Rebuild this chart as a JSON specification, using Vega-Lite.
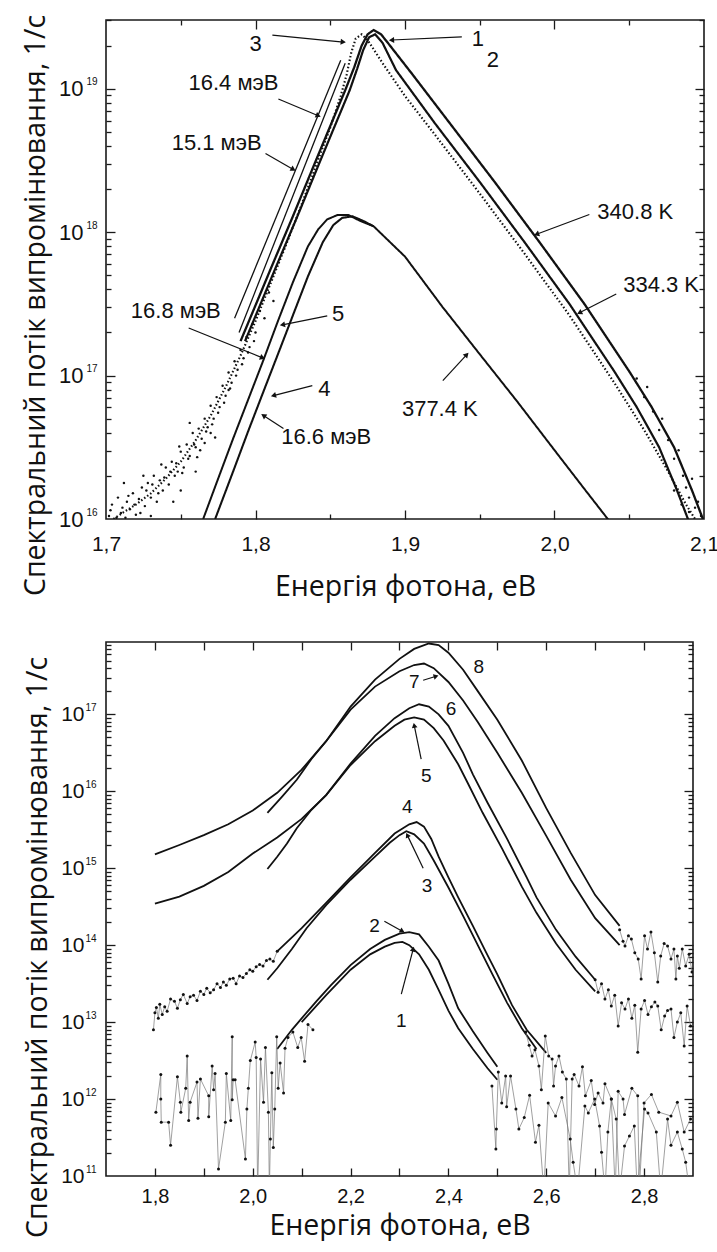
{
"$schema": "https://vega.github.io/schema/vega-lite/v6.json",
"background": "white",
"padding": {"left": 20, "top": 13, "right": 10, "bottom": 0},
"spacing": 38,
"config": {
 "view": {"stroke": "#1a1a1a", "strokeWidth": 1.6},
 "axis": {"grid": false, "domain": false, "tickColor": "#1a1a1a", "tickWidth": 1.3, "labelColor": "#111", "labelFont": "Liberation Sans", "titleColor": "#111", "labelFlush": false, "labelOverlap": false},
 "text": {"font": "Liberation Sans"}
},
"datasets": {
 "tc": [
  {"s":"1","E":1.790,"v":1.74e17},{"s":"1","E":1.800,"v":3.09e17},{"s":"1","E":1.810,"v":5.50e17},{"s":"1","E":1.825,"v":1.29e18},{"s":"1","E":1.840,"v":3.09e18},{"s":"1","E":1.850,"v":5.50e18},{"s":"1","E":1.860,"v":9.77e18},{"s":"1","E":1.866,"v":1.41e19},{"s":"1","E":1.871,"v":2.00e19},{"s":"1","E":1.875,"v":2.40e19},{"s":"1","E":1.879,"v":2.57e19},{"s":"1","E":1.884,"v":2.40e19},{"s":"1","E":1.890,"v":2.00e19},{"s":"1","E":1.905,"v":1.26e19},{"s":"1","E":1.930,"v":5.75e18},{"s":"1","E":1.960,"v":2.24e18},{"s":"1","E":1.990,"v":8.51e17},{"s":"1","E":2.020,"v":3.16e17},{"s":"1","E":2.050,"v":1.07e17},{"s":"1","E":2.065,"v":6.03e16},{"s":"1","E":2.080,"v":3.16e16},{"s":"1","E":2.092,"v":1.58e16},{"s":"1","E":2.100,"v":9.55e15},
  {"s":"2","E":1.793,"v":1.74e17},{"s":"2","E":1.803,"v":3.09e17},{"s":"2","E":1.813,"v":5.50e17},{"s":"2","E":1.828,"v":1.29e18},{"s":"2","E":1.843,"v":3.09e18},{"s":"2","E":1.853,"v":5.50e18},{"s":"2","E":1.863,"v":9.77e18},{"s":"2","E":1.868,"v":1.38e19},{"s":"2","E":1.872,"v":1.86e19},{"s":"2","E":1.876,"v":2.29e19},{"s":"2","E":1.880,"v":2.40e19},{"s":"2","E":1.885,"v":2.09e19},{"s":"2","E":1.894,"v":1.35e19},{"s":"2","E":1.920,"v":5.75e18},{"s":"2","E":1.950,"v":2.24e18},{"s":"2","E":1.980,"v":8.51e17},{"s":"2","E":2.010,"v":3.16e17},{"s":"2","E":2.040,"v":1.07e17},{"s":"2","E":2.055,"v":6.03e16},{"s":"2","E":2.070,"v":3.16e16},{"s":"2","E":2.082,"v":1.58e16},{"s":"2","E":2.090,"v":9.55e15},
  {"s":"3","E":1.705,"v":1.00e16},{"s":"3","E":1.712,"v":1.12e16},{"s":"3","E":1.720,"v":1.26e16},{"s":"3","E":1.730,"v":1.51e16},{"s":"3","E":1.740,"v":1.91e16},{"s":"3","E":1.750,"v":2.51e16},{"s":"3","E":1.760,"v":3.55e16},{"s":"3","E":1.770,"v":5.25e16},{"s":"3","E":1.780,"v":8.32e16},{"s":"3","E":1.790,"v":1.38e17},{"s":"3","E":1.800,"v":2.40e17},{"s":"3","E":1.810,"v":4.37e17},{"s":"3","E":1.820,"v":7.94e17},{"s":"3","E":1.830,"v":1.48e18},{"s":"3","E":1.840,"v":2.82e18},{"s":"3","E":1.850,"v":5.37e18},{"s":"3","E":1.857,"v":8.91e18},{"s":"3","E":1.861,"v":1.26e19},{"s":"3","E":1.864,"v":1.78e19},{"s":"3","E":1.867,"v":2.24e19},{"s":"3","E":1.871,"v":2.40e19},{"s":"3","E":1.875,"v":2.19e19},{"s":"3","E":1.885,"v":1.51e19},{"s":"3","E":1.900,"v":8.91e18},{"s":"3","E":1.920,"v":4.79e18},{"s":"3","E":1.950,"v":1.86e18},{"s":"3","E":1.980,"v":7.08e17},{"s":"3","E":2.010,"v":2.63e17},{"s":"3","E":2.040,"v":8.91e16},{"s":"3","E":2.060,"v":4.17e16},{"s":"3","E":2.075,"v":2.24e16},{"s":"3","E":2.088,"v":1.26e16},{"s":"3","E":2.097,"v":8.91e15},
  {"s":"5","E":1.765,"v":1.00e16},{"s":"5","E":1.775,"v":1.91e16},{"s":"5","E":1.785,"v":3.63e16},{"s":"5","E":1.795,"v":6.76e16},{"s":"5","E":1.805,"v":1.26e17},{"s":"5","E":1.815,"v":2.40e17},{"s":"5","E":1.825,"v":4.47e17},{"s":"5","E":1.835,"v":7.94e17},{"s":"5","E":1.842,"v":1.05e18},{"s":"5","E":1.848,"v":1.23e18},{"s":"5","E":1.855,"v":1.32e18},{"s":"5","E":1.862,"v":1.32e18},{"s":"5","E":1.870,"v":1.20e18},{"s":"5","E":1.879,"v":1.10e18},{"s":"5","E":1.900,"v":6.76e17},{"s":"5","E":1.925,"v":3.02e17},{"s":"5","E":1.950,"v":1.41e17},{"s":"5","E":1.975,"v":6.61e16},{"s":"5","E":2.000,"v":3.02e16},{"s":"5","E":2.020,"v":1.62e16},{"s":"5","E":2.035,"v":1.02e16},{"s":"5","E":2.040,"v":8.71e15},
  {"s":"4","E":1.773,"v":1.00e16},{"s":"4","E":1.785,"v":2.14e16},{"s":"4","E":1.795,"v":4.07e16},{"s":"4","E":1.805,"v":7.59e16},{"s":"4","E":1.815,"v":1.41e17},{"s":"4","E":1.825,"v":2.63e17},{"s":"4","E":1.835,"v":4.90e17},{"s":"4","E":1.845,"v":8.51e17},{"s":"4","E":1.852,"v":1.12e18},{"s":"4","E":1.858,"v":1.26e18},{"s":"4","E":1.865,"v":1.29e18},{"s":"4","E":1.872,"v":1.20e18},{"s":"4","E":1.879,"v":1.10e18}
 ],
 "tf": [
  {"s":"f15","E":1.786,"v":2.51e17},{"s":"f15","E":1.857,"v":1.58e19},
  {"s":"f16","E":1.789,"v":2.00e17},{"s":"f16","E":1.860,"v":1.51e19}
 ],
 "tn": [
  {"E":1.702,"v":1.05e16},{"E":1.704,"v":1.26e16},{"E":1.708,"v":1.41e16},{"E":1.710,"v":1.10e16},{"E":1.713,"v":1.02e16},{"E":1.714,"v":1.32e16},{"E":1.716,"v":1.17e16},{"E":1.718,"v":1.51e16},{"E":1.720,"v":1.07e16},{"E":1.722,"v":1.38e16},{"E":1.724,"v":1.66e16},{"E":1.726,"v":1.23e16},{"E":1.728,"v":1.78e16},{"E":1.730,"v":1.41e16},{"E":1.732,"v":2.00e16},{"E":1.734,"v":1.32e16},{"E":1.736,"v":1.86e16},{"E":1.738,"v":1.58e16},{"E":1.740,"v":2.29e16},{"E":1.742,"v":1.74e16},{"E":1.744,"v":2.51e16},{"E":1.746,"v":2.00e16},{"E":1.748,"v":2.14e16},{"E":1.750,"v":2.95e16},{"E":1.752,"v":2.29e16},{"E":1.754,"v":3.31e16},{"E":1.756,"v":2.75e16},{"E":1.758,"v":3.98e16},{"E":1.760,"v":3.16e16},{"E":1.762,"v":4.27e16},{"E":1.764,"v":3.63e16},{"E":1.766,"v":5.01e16},{"E":1.768,"v":4.37e16},{"E":1.770,"v":6.17e16},{"E":1.772,"v":5.01e16},{"E":1.774,"v":7.08e16},{"E":1.776,"v":6.03e16},{"E":1.778,"v":8.51e16},{"E":1.780,"v":7.24e16},{"E":1.782,"v":1.05e17},{"E":1.784,"v":8.91e16},{"E":1.786,"v":1.26e17},{"E":1.788,"v":1.10e17},{"E":1.790,"v":1.51e17},{"E":1.792,"v":1.32e17},{"E":1.794,"v":1.86e17},{"E":1.796,"v":1.58e17},{"E":1.798,"v":2.29e17},{"E":1.800,"v":2.00e17},{"E":1.803,"v":2.82e17},{"E":1.806,"v":2.51e17},{"E":1.809,"v":3.80e17},{"E":1.812,"v":3.31e17},
  {"E":1.745,"v":1.32e16},{"E":1.730,"v":1.05e16},{"E":1.760,"v":2.14e16},{"E":1.750,"v":1.58e16},{"E":1.712,"v":1.78e16},{"E":1.770,"v":3.98e16},{"E":1.782,"v":7.94e16},{"E":1.756,"v":4.68e16},{"E":1.766,"v":3.39e16},
  {"E":1.703,"v":1.15e16},{"E":1.707,"v":1.02e16},{"E":1.711,"v":1.20e16},{"E":1.715,"v":1.45e16},{"E":1.719,"v":1.26e16},{"E":1.723,"v":1.10e16},{"E":1.727,"v":1.58e16},{"E":1.731,"v":1.74e16},{"E":1.735,"v":1.51e16},{"E":1.739,"v":1.95e16},{"E":1.743,"v":2.14e16},{"E":1.747,"v":2.45e16},{"E":1.751,"v":2.09e16},{"E":1.755,"v":2.63e16},{"E":1.759,"v":3.31e16},{"E":1.763,"v":3.02e16},{"E":1.767,"v":4.07e16},{"E":1.771,"v":4.57e16},{"E":1.775,"v":5.50e16},{"E":1.779,"v":6.46e16},{"E":1.783,"v":8.13e16},{"E":1.787,"v":1.00e17},{"E":1.791,"v":1.20e17},{"E":1.795,"v":1.45e17},{"E":1.799,"v":1.74e17},{"E":1.725,"v":2.00e16},{"E":1.737,"v":2.40e16},{"E":1.749,"v":3.20e16},{"E":1.761,"v":2.70e16},{"E":1.773,"v":3.70e16},
  {"E":2.055,"v":9.55e16},{"E":2.060,"v":7.08e16},{"E":2.062,"v":8.32e16},{"E":2.066,"v":5.62e16},{"E":2.070,"v":4.17e16},{"E":2.072,"v":5.01e16},{"E":2.076,"v":3.55e16},{"E":2.080,"v":2.63e16},{"E":2.083,"v":3.02e16},{"E":2.086,"v":2.00e16},{"E":2.088,"v":1.66e16},{"E":2.090,"v":1.41e16},{"E":2.092,"v":1.91e16},{"E":2.094,"v":1.20e16},{"E":2.096,"v":1.32e16},{"E":2.098,"v":1.05e16},{"E":2.085,"v":1.26e16},{"E":2.080,"v":1.58e16},{"E":2.090,"v":1.12e16}
 ],
 "ta": [
  {"t":"3","E":1.800,"v":2.04e19},{"t":"1","E":1.9487,"v":2.22e19},{"t":"2","E":1.9587,"v":1.58e19},
  {"t":"16.4 мэВ","E":1.7853,"v":1.10e19},{"t":"15.1 мэВ","E":1.774,"v":4.22e18},
  {"t":"340.8 K","E":2.054,"v":1.38e18},{"t":"334.3 K","E":2.0713,"v":4.29e17},{"t":"377.4 K","E":1.9233,"v":5.81e16},
  {"t":"16.8 мэВ","E":1.7467,"v":2.82e17},{"t":"5","E":1.8553,"v":2.69e17},{"t":"4","E":1.846,"v":8.13e16},{"t":"16.6 мэВ","E":1.8473,"v":3.71e16}
 ],
 "tr": [
  {"E":1.8113,"v":2.37e19,"E2":1.8587,"v2":2.12e19,"ang":95.6},
  {"E":1.938,"v":2.30e19,"E2":1.891,"v2":2.19e19,"ang":267.5},
  {"E":1.8153,"v":8.5e18,"E2":1.842,"v2":6.49e18,"ang":113},
  {"E":1.8067,"v":3.54e18,"E2":1.8253,"v2":2.74e18,"ang":119.7},
  {"E":2.0233,"v":1.33e18,"E2":1.988,"v2":9.68e17,"ang":249.3},
  {"E":2.0413,"v":3.71e17,"E2":2.0167,"v2":2.74e17,"ang":242.8},
  {"E":1.9253,"v":9.22e16,"E2":1.9413,"v2":1.40e17,"ang":42.7},
  {"E":1.7553,"v":2.15e17,"E2":1.8047,"v2":1.33e17,"ang":112.1},
  {"E":1.848,"v":2.61e17,"E2":1.818,"v2":2.26e17,"ang":258.7},
  {"E":1.838,"v":8.51e16,"E2":1.812,"v2":7.26e16,"ang":255.6},
  {"E":1.8187,"v":4.28e16,"E2":1.8053,"v2":5.27e16,"ang":303}
 ],
 "bc": [
  {"s":"8","E":1.80,"v":1.51e15},{"s":"8","E":1.85,"v":2.00e15},{"s":"8","E":1.90,"v":2.69e15},{"s":"8","E":1.95,"v":3.72e15},{"s":"8","E":2.00,"v":5.62e15},{"s":"8","E":2.05,"v":9.55e15},{"s":"8","E":2.10,"v":1.91e16},{"s":"8","E":2.15,"v":4.47e16},{"s":"8","E":2.20,"v":1.26e17},{"s":"8","E":2.25,"v":2.82e17},{"s":"8","E":2.30,"v":5.25e17},{"s":"8","E":2.33,"v":7.08e17},{"s":"8","E":2.36,"v":8.32e17},{"s":"8","E":2.38,"v":7.94e17},{"s":"8","E":2.40,"v":6.31e17},{"s":"8","E":2.43,"v":3.80e17},{"s":"8","E":2.46,"v":2.00e17},{"s":"8","E":2.50,"v":8.51e16},{"s":"8","E":2.55,"v":2.51e16},{"s":"8","E":2.60,"v":6.03e15},{"s":"8","E":2.65,"v":1.58e15},{"s":"8","E":2.70,"v":4.47e14},{"s":"8","E":2.75,"v":1.78e14},
  {"s":"7","E":2.03,"v":5.25e15},{"s":"7","E":2.06,"v":8.51e15},{"s":"7","E":2.09,"v":1.41e16},{"s":"7","E":2.12,"v":2.63e16},{"s":"7","E":2.15,"v":4.47e16},{"s":"7","E":2.20,"v":1.15e17},{"s":"7","E":2.25,"v":2.29e17},{"s":"7","E":2.30,"v":3.63e17},{"s":"7","E":2.33,"v":4.37e17},{"s":"7","E":2.35,"v":4.57e17},{"s":"7","E":2.37,"v":3.98e17},{"s":"7","E":2.40,"v":2.63e17},{"s":"7","E":2.43,"v":1.51e17},{"s":"7","E":2.46,"v":7.94e16},{"s":"7","E":2.50,"v":3.16e16},{"s":"7","E":2.55,"v":9.55e15},{"s":"7","E":2.60,"v":2.63e15},{"s":"7","E":2.65,"v":7.08e14},{"s":"7","E":2.70,"v":2.24e14},{"s":"7","E":2.75,"v":1.00e14},
  {"s":"6","E":1.80,"v":3.47e14},{"s":"6","E":1.85,"v":4.27e14},{"s":"6","E":1.90,"v":5.89e14},{"s":"6","E":1.95,"v":8.91e14},{"s":"6","E":2.00,"v":1.55e15},{"s":"6","E":2.05,"v":2.51e15},{"s":"6","E":2.10,"v":4.37e15},{"s":"6","E":2.15,"v":8.91e15},{"s":"6","E":2.20,"v":2.29e16},{"s":"6","E":2.25,"v":5.25e16},{"s":"6","E":2.29,"v":8.91e16},{"s":"6","E":2.32,"v":1.20e17},{"s":"6","E":2.34,"v":1.35e17},{"s":"6","E":2.36,"v":1.26e17},{"s":"6","E":2.38,"v":1.00e17},{"s":"6","E":2.40,"v":7.08e16},{"s":"6","E":2.43,"v":3.16e16},{"s":"6","E":2.45,"v":1.66e16},{"s":"6","E":2.48,"v":7.08e15},{"s":"6","E":2.52,"v":2.40e15},{"s":"6","E":2.56,"v":7.59e14},{"s":"6","E":2.58,"v":4.17e14},{"s":"6","E":2.62,"v":1.58e14},{"s":"6","E":2.66,"v":7.08e13},{"s":"6","E":2.70,"v":3.55e13},
  {"s":"5","E":2.03,"v":9.77e14},{"s":"5","E":2.05,"v":1.41e15},{"s":"5","E":2.07,"v":2.09e15},{"s":"5","E":2.09,"v":3.31e15},{"s":"5","E":2.12,"v":5.75e15},{"s":"5","E":2.15,"v":8.91e15},{"s":"5","E":2.20,"v":2.19e16},{"s":"5","E":2.25,"v":4.47e16},{"s":"5","E":2.29,"v":7.08e16},{"s":"5","E":2.31,"v":8.51e16},{"s":"5","E":2.33,"v":9.12e16},{"s":"5","E":2.35,"v":8.51e16},{"s":"5","E":2.37,"v":6.61e16},{"s":"5","E":2.39,"v":4.57e16},{"s":"5","E":2.42,"v":2.24e16},{"s":"5","E":2.44,"v":1.26e16},{"s":"5","E":2.47,"v":5.25e15},{"s":"5","E":2.51,"v":1.78e15},{"s":"5","E":2.55,"v":5.75e14},{"s":"5","E":2.58,"v":2.63e14},{"s":"5","E":2.62,"v":1.05e14},{"s":"5","E":2.66,"v":4.79e13},{"s":"5","E":2.70,"v":2.51e13},
  {"s":"4","E":2.05,"v":8.32e13},{"s":"4","E":2.10,"v":1.66e14},{"s":"4","E":2.15,"v":3.55e14},{"s":"4","E":2.20,"v":7.59e14},{"s":"4","E":2.25,"v":1.58e15},{"s":"4","E":2.29,"v":2.82e15},{"s":"4","E":2.32,"v":3.72e15},{"s":"4","E":2.335,"v":3.98e15},{"s":"4","E":2.35,"v":3.47e15},{"s":"4","E":2.365,"v":2.40e15},{"s":"4","E":2.38,"v":1.41e15},{"s":"4","E":2.40,"v":7.59e14},{"s":"4","E":2.42,"v":4.17e14},{"s":"4","E":2.45,"v":1.78e14},{"s":"4","E":2.476,"v":8.32e13},{"s":"4","E":2.50,"v":4.17e13},{"s":"4","E":2.53,"v":1.66e13},{"s":"4","E":2.56,"v":7.94e12},{"s":"4","E":2.60,"v":3.98e12},
  {"s":"3","E":2.03,"v":3.55e13},{"s":"3","E":2.05,"v":5.01e13},{"s":"3","E":2.08,"v":8.91e13},{"s":"3","E":2.11,"v":1.66e14},{"s":"3","E":2.15,"v":3.31e14},{"s":"3","E":2.20,"v":7.08e14},{"s":"3","E":2.25,"v":1.41e15},{"s":"3","E":2.28,"v":2.14e15},{"s":"3","E":2.30,"v":2.69e15},{"s":"3","E":2.314,"v":3.02e15},{"s":"3","E":2.33,"v":2.75e15},{"s":"3","E":2.35,"v":2.09e15},{"s":"3","E":2.37,"v":1.26e15},{"s":"3","E":2.40,"v":5.62e14},{"s":"3","E":2.43,"v":2.40e14},{"s":"3","E":2.46,"v":1.00e14},{"s":"3","E":2.49,"v":4.17e13},{"s":"3","E":2.52,"v":1.78e13},{"s":"3","E":2.55,"v":8.32e12},{"s":"3","E":2.58,"v":4.47e12},
  {"s":"2","E":2.05,"v":4.47e12},{"s":"2","E":2.08,"v":7.94e12},{"s":"2","E":2.10,"v":1.12e13},{"s":"2","E":2.13,"v":1.86e13},{"s":"2","E":2.16,"v":3.02e13},{"s":"2","E":2.20,"v":5.50e13},{"s":"2","E":2.24,"v":8.91e13},{"s":"2","E":2.27,"v":1.17e14},{"s":"2","E":2.30,"v":1.41e14},{"s":"2","E":2.32,"v":1.48e14},{"s":"2","E":2.34,"v":1.38e14},{"s":"2","E":2.36,"v":9.55e13},{"s":"2","E":2.38,"v":6.31e13},{"s":"2","E":2.40,"v":3.16e13},{"s":"2","E":2.42,"v":1.51e13},{"s":"2","E":2.45,"v":7.59e12},{"s":"2","E":2.48,"v":3.98e12},{"s":"2","E":2.50,"v":2.63e12},
  {"s":"1","E":2.10,"v":1.00e13},{"s":"1","E":2.15,"v":2.24e13},{"s":"1","E":2.20,"v":4.79e13},{"s":"1","E":2.24,"v":7.59e13},{"s":"1","E":2.27,"v":9.55e13},{"s":"1","E":2.29,"v":1.07e14},{"s":"1","E":2.306,"v":1.10e14},{"s":"1","E":2.32,"v":1.00e14},{"s":"1","E":2.34,"v":7.59e13},{"s":"1","E":2.36,"v":4.79e13},{"s":"1","E":2.38,"v":2.63e13},{"s":"1","E":2.40,"v":1.41e13},{"s":"1","E":2.42,"v":8.32e12},{"s":"1","E":2.45,"v":4.47e12},{"s":"1","E":2.48,"v":2.51e12},{"s":"1","E":2.50,"v":1.78e12}
 ],
 "bn": [
  {"s":"n4","E":1.797,"v":7.94e12},{"s":"n4","E":1.800,"v":1.32e13},{"s":"n4","E":1.803,"v":1.55e13},{"s":"n4","E":1.807,"v":1.12e13},{"s":"n4","E":1.810,"v":1.70e13},{"s":"n4","E":1.815,"v":1.26e13},{"s":"n4","E":1.820,"v":1.58e13},{"s":"n4","E":1.825,"v":1.38e13},{"s":"n4","E":1.832,"v":2.00e13},{"s":"n4","E":1.840,"v":1.86e13},{"s":"n4","E":1.846,"v":1.51e13},{"s":"n4","E":1.852,"v":1.95e13},{"s":"n4","E":1.858,"v":2.29e13},{"s":"n4","E":1.866,"v":1.74e13},{"s":"n4","E":1.872,"v":2.14e13},{"s":"n4","E":1.879,"v":2.24e13},{"s":"n4","E":1.886,"v":1.91e13},{"s":"n4","E":1.893,"v":2.51e13},{"s":"n4","E":1.900,"v":2.29e13},{"s":"n4","E":1.906,"v":2.75e13},{"s":"n4","E":1.913,"v":2.40e13},{"s":"n4","E":1.920,"v":2.63e13},{"s":"n4","E":1.927,"v":3.16e13},{"s":"n4","E":1.934,"v":2.82e13},{"s":"n4","E":1.940,"v":3.31e13},{"s":"n4","E":1.946,"v":3.02e13},{"s":"n4","E":1.953,"v":3.63e13},{"s":"n4","E":1.960,"v":3.72e13},{"s":"n4","E":1.966,"v":3.16e13},{"s":"n4","E":1.973,"v":3.98e13},{"s":"n4","E":1.980,"v":3.80e13},{"s":"n4","E":1.987,"v":4.27e13},{"s":"n4","E":1.994,"v":4.79e13},{"s":"n4","E":2.000,"v":4.57e13},{"s":"n4","E":2.007,"v":5.25e13},{"s":"n4","E":2.014,"v":5.62e13},{"s":"n4","E":2.021,"v":5.37e13},{"s":"n4","E":2.028,"v":6.31e13},{"s":"n4","E":2.035,"v":6.61e13},{"s":"n4","E":2.042,"v":6.17e13},{"s":"n4","E":2.050,"v":8.32e13},
  {"s":"nL","E":1.802,"v":6.76e11},{"s":"nL","E":1.812,"v":2.09e12},{"s":"nL","E":1.812,"v":1.00e12},{"s":"nL","E":1.813,"v":5.01e11},{"s":"nL","E":1.828,"v":5.01e11},{"s":"nL","E":1.832,"v":2.51e11},{"s":"nL","E":1.846,"v":1.95e12},{"s":"nL","E":1.852,"v":9.12e11},{"s":"nL","E":1.853,"v":6.76e11},{"s":"nL","E":1.863,"v":1.38e12},{"s":"nL","E":1.866,"v":3.63e12},{"s":"nL","E":1.869,"v":5.25e11},{"s":"nL","E":1.872,"v":9.12e11},{"s":"nL","E":1.886,"v":1.66e12},{"s":"nL","E":1.888,"v":5.62e11},{"s":"nL","E":1.893,"v":1.82e12},{"s":"nL","E":1.910,"v":1.10e12},{"s":"nL","E":1.910,"v":5.89e11},{"s":"nL","E":1.917,"v":2.69e12},{"s":"nL","E":1.920,"v":1.32e12},{"s":"nL","E":1.923,"v":2.14e12},{"s":"nL","E":1.930,"v":1.23e11},{"s":"nL","E":1.944,"v":5.01e11},{"s":"nL","E":1.946,"v":2.14e12},{"s":"nL","E":1.955,"v":5.25e11},{"s":"nL","E":1.958,"v":6.46e12},{"s":"nL","E":1.958,"v":9.77e11},{"s":"nL","E":1.960,"v":1.78e12},{"s":"nL","E":1.964,"v":1.78e12},{"s":"nL","E":1.985,"v":1.66e11},{"s":"nL","E":1.988,"v":7.41e11},{"s":"nL","E":1.991,"v":1.38e12},{"s":"nL","E":1.995,"v":3.16e12},{"s":"nL","E":2.005,"v":5.50e12},{"s":"nL","E":2.007,"v":3.47e12},{"s":"nL","E":2.010,"v":6.31e10},{"s":"nL","E":2.016,"v":3.31e12},{"s":"nL","E":2.022,"v":9.12e11},{"s":"nL","E":2.026,"v":4.68e12},{"s":"nL","E":2.032,"v":6.76e11},{"s":"nL","E":2.034,"v":6.31e10},{"s":"nL","E":2.036,"v":3.02e11},{"s":"nL","E":2.039,"v":2.19e12},{"s":"nL","E":2.042,"v":2.34e11},{"s":"nL","E":2.045,"v":7.41e11},{"s":"nL","E":2.049,"v":6.46e12},{"s":"nL","E":2.052,"v":1.38e12},{"s":"nL","E":2.056,"v":2.95e12},{"s":"nL","E":2.063,"v":1.20e12},{"s":"nL","E":2.066,"v":4.57e12},{"s":"nL","E":2.072,"v":6.31e12},{"s":"nL","E":2.082,"v":7.41e12},{"s":"nL","E":2.092,"v":4.68e12},{"s":"nL","E":2.099,"v":6.31e12},{"s":"nL","E":2.106,"v":3.09e12},{"s":"nL","E":2.113,"v":9.33e12},{"s":"nL","E":2.123,"v":7.94e12},
  {"s":"nLow","E":2.489,"v":1.48e12},{"s":"nLow","E":2.497,"v":2.24e11},{"s":"nLow","E":2.498,"v":4.07e11},{"s":"nLow","E":2.502,"v":2.24e12},{"s":"nLow","E":2.509,"v":8.91e11},{"s":"nLow","E":2.517,"v":2.00e12},{"s":"nLow","E":2.519,"v":7.94e11},{"s":"nLow","E":2.527,"v":2.00e12},{"s":"nLow","E":2.538,"v":7.41e11},{"s":"nLow","E":2.544,"v":4.07e11},{"s":"nLow","E":2.555,"v":5.75e11},{"s":"nLow","E":2.566,"v":1.12e12},{"s":"nLow","E":2.578,"v":2.75e11},{"s":"nLow","E":2.585,"v":4.57e11},{"s":"nLow","E":2.595,"v":6.31e10},{"s":"nLow","E":2.604,"v":8.91e11},{"s":"nLow","E":2.619,"v":6.03e11},{"s":"nLow","E":2.632,"v":1.05e12},{"s":"nLow","E":2.649,"v":3.02e11},{"s":"nLow","E":2.655,"v":1.51e11},{"s":"nLow","E":2.664,"v":6.31e10},{"s":"nLow","E":2.679,"v":8.13e11},{"s":"nLow","E":2.686,"v":6.61e11},{"s":"nLow","E":2.699,"v":1.00e12},{"s":"nLow","E":2.709,"v":4.47e11},{"s":"nLow","E":2.713,"v":2.04e11},{"s":"nLow","E":2.720,"v":6.31e10},{"s":"nLow","E":2.726,"v":3.72e11},{"s":"nLow","E":2.733,"v":1.00e12},{"s":"nLow","E":2.743,"v":5.50e11},{"s":"nLow","E":2.750,"v":6.31e10},{"s":"nLow","E":2.760,"v":2.45e11},{"s":"nLow","E":2.770,"v":3.31e11},{"s":"nLow","E":2.780,"v":4.47e11},{"s":"nLow","E":2.786,"v":6.31e10},{"s":"nLow","E":2.801,"v":7.41e11},{"s":"nLow","E":2.808,"v":6.61e11},{"s":"nLow","E":2.825,"v":3.72e11},{"s":"nLow","E":2.834,"v":6.31e10},{"s":"nLow","E":2.848,"v":5.50e11},{"s":"nLow","E":2.855,"v":2.51e11},{"s":"nLow","E":2.868,"v":3.72e11},{"s":"nLow","E":2.878,"v":2.24e11},{"s":"nLow","E":2.885,"v":1.51e11},{"s":"nLow","E":2.893,"v":6.31e10},
  {"s":"nMid","E":2.558,"v":7.41e12},{"s":"nMid","E":2.565,"v":5.01e12},{"s":"nMid","E":2.571,"v":3.63e12},{"s":"nMid","E":2.577,"v":4.37e12},{"s":"nMid","E":2.585,"v":2.69e12},{"s":"nMid","E":2.590,"v":1.32e12},{"s":"nMid","E":2.598,"v":6.61e12},{"s":"nMid","E":2.605,"v":3.63e12},{"s":"nMid","E":2.612,"v":3.31e12},{"s":"nMid","E":2.615,"v":1.48e12},{"s":"nMid","E":2.619,"v":2.69e12},{"s":"nMid","E":2.626,"v":3.63e12},{"s":"nMid","E":2.633,"v":2.24e12},{"s":"nMid","E":2.641,"v":1.82e12},{"s":"nMid","E":2.647,"v":6.31e10},{"s":"nMid","E":2.653,"v":1.82e12},{"s":"nMid","E":2.657,"v":2.09e12},{"s":"nMid","E":2.667,"v":1.48e12},{"s":"nMid","E":2.674,"v":2.63e12},{"s":"nMid","E":2.680,"v":1.10e12},{"s":"nMid","E":2.692,"v":1.74e12},{"s":"nMid","E":2.699,"v":8.51e11},{"s":"nMid","E":2.706,"v":1.20e12},{"s":"nMid","E":2.716,"v":8.91e11},{"s":"nMid","E":2.720,"v":1.58e12},{"s":"nMid","E":2.733,"v":1.00e12},{"s":"nMid","E":2.741,"v":6.31e10},{"s":"nMid","E":2.747,"v":1.26e12},{"s":"nMid","E":2.757,"v":1.00e12},{"s":"nMid","E":2.760,"v":6.31e11},{"s":"nMid","E":2.775,"v":1.38e12},{"s":"nMid","E":2.787,"v":1.10e12},{"s":"nMid","E":2.790,"v":6.31e10},{"s":"nMid","E":2.800,"v":8.91e11},{"s":"nMid","E":2.815,"v":1.15e12},{"s":"nMid","E":2.830,"v":6.76e11},{"s":"nMid","E":2.855,"v":6.03e11},{"s":"nMid","E":2.868,"v":9.12e11},{"s":"nMid","E":2.882,"v":3.72e11},{"s":"nMid","E":2.895,"v":5.50e11},
  {"s":"nU78","E":2.750,"v":1.58e14},{"s":"nU78","E":2.757,"v":1.12e14},{"s":"nU78","E":2.761,"v":9.77e13},{"s":"nU78","E":2.768,"v":1.32e14},{"s":"nU78","E":2.774,"v":1.20e14},{"s":"nU78","E":2.781,"v":7.94e13},{"s":"nU78","E":2.788,"v":6.61e13},{"s":"nU78","E":2.794,"v":3.63e13},{"s":"nU78","E":2.801,"v":1.32e14},{"s":"nU78","E":2.807,"v":8.91e13},{"s":"nU78","E":2.814,"v":1.48e14},{"s":"nU78","E":2.821,"v":7.94e13},{"s":"nU78","E":2.828,"v":3.31e13},{"s":"nU78","E":2.834,"v":7.24e13},{"s":"nU78","E":2.841,"v":1.05e14},{"s":"nU78","E":2.848,"v":9.77e13},{"s":"nU78","E":2.855,"v":6.61e13},{"s":"nU78","E":2.861,"v":8.91e13},{"s":"nU78","E":2.865,"v":3.63e13},{"s":"nU78","E":2.868,"v":7.24e13},{"s":"nU78","E":2.872,"v":5.01e13},{"s":"nU78","E":2.878,"v":8.91e13},{"s":"nU78","E":2.885,"v":5.37e13},{"s":"nU78","E":2.892,"v":7.59e13},{"s":"nU78","E":2.898,"v":4.47e13},
  {"s":"nU56","E":2.700,"v":3.55e13},{"s":"nU56","E":2.706,"v":2.45e13},{"s":"nU56","E":2.713,"v":3.16e13},{"s":"nU56","E":2.720,"v":2.00e13},{"s":"nU56","E":2.727,"v":2.63e13},{"s":"nU56","E":2.733,"v":1.62e13},{"s":"nU56","E":2.740,"v":2.24e13},{"s":"nU56","E":2.747,"v":8.91e12},{"s":"nU56","E":2.754,"v":1.78e13},{"s":"nU56","E":2.761,"v":1.48e13},{"s":"nU56","E":2.768,"v":2.00e13},{"s":"nU56","E":2.775,"v":1.12e13},{"s":"nU56","E":2.781,"v":1.66e13},{"s":"nU56","E":2.787,"v":4.07e12},{"s":"nU56","E":2.794,"v":1.48e13},{"s":"nU56","E":2.801,"v":1.91e13},{"s":"nU56","E":2.808,"v":1.26e13},{"s":"nU56","E":2.815,"v":1.58e13},{"s":"nU56","E":2.822,"v":1.82e13},{"s":"nU56","E":2.828,"v":1.62e13},{"s":"nU56","E":2.835,"v":7.94e12},{"s":"nU56","E":2.842,"v":1.20e13},{"s":"nU56","E":2.848,"v":1.41e13},{"s":"nU56","E":2.855,"v":1.48e13},{"s":"nU56","E":2.861,"v":6.31e12},{"s":"nU56","E":2.868,"v":1.00e13},{"s":"nU56","E":2.875,"v":1.32e13},{"s":"nU56","E":2.882,"v":4.90e12},{"s":"nU56","E":2.888,"v":1.62e13},{"s":"nU56","E":2.895,"v":8.91e12}
 ],
 "ba": [
  {"t":"8","E":2.4622,"v":4.07e17},{"t":"7","E":2.3301,"v":2.61e17},{"t":"6","E":2.4053,"v":1.16e17},{"t":"5","E":2.3545,"v":1.57e16},{"t":"4","E":2.3159,"v":6.19e15},{"t":"3","E":2.3565,"v":5.83e14},{"t":"2","E":2.2488,"v":1.77e14},{"t":"1","E":2.3037,"v":1.03e13}
 ],
 "br": [
  {"E":2.3484,"v":2.77e17,"E2":2.3748,"v2":3.12e17,"ang":72.9},
  {"E":2.3443,"v":2.61e16,"E2":2.3301,"v2":7.19e16,"ang":348.4},
  {"E":2.3484,"v":1.0e15,"E2":2.3159,"v2":2.69e15,"ang":334.1},
  {"E":2.2691,"v":2.05e14,"E2":2.3057,"v2":1.52e14,"ang":119},
  {"E":2.3037,"v":2.31e13,"E2":2.328,"v2":8.87e13,"ang":14.9}
 ]
},
"vconcat": [
 {
  "width": 598, "height": 499,
  "resolve": {"axis": {"x": "independent", "y": "independent"}},
  "layer": [
   {"data": {"name": "tc"}, "mark": {"type": "line", "clip": true, "color": "#111"},
    "encoding": {
     "x": {"field": "E", "type": "quantitative", "scale": {"domain": [1.7, 2.1], "nice": false, "zero": false},
       "axis": {"orient": "bottom", "values": [1.7, 1.8, 1.9, 2.0, 2.1], "labelExpr": "replace(format(datum.value,'.1f'),'.',',')", "ticks": false, "labelPadding": 14, "labelFontSize": 21, "title": "Енергія фотона, еВ", "titleFont": "Open Sans", "titleFontSize": 28.5, "titleFontWeight": "normal", "titlePadding": 18}},
     "y": {"field": "v", "type": "quantitative", "scale": {"type": "log", "domain": [1e16, 3.02e19], "nice": false},
       "axis": {"orient": "left", "values": [1e16, 1e17, 1e18, 1e19], "labelExpr": "'10'", "ticks": false, "labelPadding": 23, "labelFontSize": 22, "title": "Спектральний потік випромінювання, 1/с", "titleFont": "Open Sans", "titleFontSize": 28.5, "titleFontWeight": "normal", "titlePadding": 8, "titleY": 285}},
     "detail": {"field": "s"},
     "strokeWidth": {"field": "s", "type": "ordinal", "scale": {"domain": ["1","2","3","4","5"], "range": [2.3, 2.0, 1.8, 1.5, 2.3]}, "legend": null},
     "strokeDash": {"field": "s", "type": "nominal", "scale": {"domain": ["1","2","3","4","5"], "range": [[1,0],[1,0],[1.5,2.2],[1,0],[1,0]]}, "legend": null}
    }},
   {"data": {"name": "tn"}, "mark": {"type": "point", "filled": true, "size": 6, "color": "#111", "opacity": 1, "clip": true},
    "encoding": {
     "x": {"field": "E", "type": "quantitative", "axis": {"orient": "top", "values": [1.8, 1.9, 2.0], "labels": false, "tickSize": -9, "title": null}},
     "y": {"field": "v", "type": "quantitative", "axis": {"orient": "left", "values": [1e16, 1e17, 1e18, 1e19], "labelExpr": "format(log(datum.value)/LN10,'d')", "ticks": false, "labelFontSize": 10, "labelPadding": 9, "labelOffset": -7, "title": null}}
    }},
   {"data": {"name": "ta"}, "mark": {"type": "text", "fontSize": 22, "font": "Liberation Sans", "color": "#111", "align": "center", "baseline": "middle"},
    "encoding": {
     "x": {"field": "E", "type": "quantitative", "axis": {"orient": "bottom", "values": [1.8, 1.9, 2.0], "labels": false, "tickSize": -9, "title": null}},
     "y": {"field": "v", "type": "quantitative", "axis": {"orient": "right", "values": [1e17, 1e18, 1e19], "labels": false, "tickSize": -9, "title": null}},
     "text": {"field": "t"}
    }},
   {"data": {"name": "tr"}, "mark": {"type": "rule", "strokeWidth": 1.2, "color": "#111"},
    "encoding": {
     "x": {"field": "E", "type": "quantitative", "axis": {"orient": "bottom", "values": [1.75, 1.85, 1.95, 2.05], "labels": false, "tickSize": -5, "title": null}},
     "y": {"field": "v", "type": "quantitative", "axis": {"orient": "left", "values": [1e17, 1e18, 1e19], "labels": false, "tickSize": -9, "title": null}},
     "x2": {"field": "E2"}, "y2": {"field": "v2"}
    }},
   {"data": {"name": "tr"}, "mark": {"type": "point", "shape": "triangle-up", "filled": true, "size": 36, "color": "#111", "opacity": 1},
    "encoding": {
     "x": {"field": "E2", "type": "quantitative", "axis": {"orient": "top", "values": [1.75, 1.85, 1.95, 2.05], "labels": false, "tickSize": -5, "title": null}},
     "y": {"field": "v2", "type": "quantitative", "axis": {"orient": "left", "values": [2e16,3e16,4e16,5e16,6e16,7e16,8e16,9e16,2e17,3e17,4e17,5e17,6e17,7e17,8e17,9e17,2e18,3e18,4e18,5e18,6e18,7e18,8e18,9e18,2e19,3e19], "labels": false, "tickSize": -5, "title": null}},
     "angle": {"field": "ang", "type": "quantitative", "scale": null}
    }},
   {"data": {"name": "tf"}, "mark": {"type": "line", "strokeWidth": 1.3, "color": "#111", "clip": true},
    "encoding": {
     "x": {"field": "E", "type": "quantitative", "axis": null},
     "y": {"field": "v", "type": "quantitative", "axis": {"orient": "right", "values": [2e16,3e16,4e16,5e16,6e16,7e16,8e16,9e16,2e17,3e17,4e17,5e17,6e17,7e17,8e17,9e17,2e18,3e18,4e18,5e18,6e18,7e18,8e18,9e18,2e19,3e19], "labels": false, "tickSize": -5, "title": null}},
     "detail": {"field": "s"}
    }}
  ]
 },
 {
  "width": 587, "height": 534,
  "resolve": {"axis": {"x": "independent", "y": "independent"}},
  "layer": [
   {"data": {"name": "bc"}, "mark": {"type": "line", "clip": true, "color": "#111", "strokeWidth": 1.8},
    "encoding": {
     "x": {"field": "E", "type": "quantitative", "scale": {"domain": [1.7, 2.9], "nice": false, "zero": false},
       "axis": {"orient": "bottom", "values": [1.8, 2.0, 2.2, 2.4, 2.6, 2.8], "labelExpr": "replace(format(datum.value,'.1f'),'.',',')", "ticks": false, "labelPadding": 10, "labelFontSize": 20, "title": "Енергія фотона, еВ", "titleFont": "Open Sans", "titleFontSize": 28.5, "titleFontWeight": "normal", "titlePadding": 5}},
     "y": {"field": "v", "type": "quantitative", "scale": {"type": "log", "domain": [1e11, 8.7e17], "nice": false},
       "axis": {"orient": "left", "values": [1e11, 1e12, 1e13, 1e14, 1e15, 1e16, 1e17], "labelExpr": "'10'", "ticks": false, "labelPadding": 22, "labelFontSize": 21, "title": "Спектральний потік випромінювання, 1/с", "titleFont": "Open Sans", "titleFontSize": 28.5, "titleFontWeight": "normal", "titlePadding": 8, "titleY": 305}},
     "detail": {"field": "s"}
    }},
   {"data": {"name": "bn"}, "mark": {"type": "line", "clip": true, "color": "#777", "strokeWidth": 0.7},
    "encoding": {
     "x": {"field": "E", "type": "quantitative", "axis": {"orient": "top", "values": [1.8,1.9,2.0,2.1,2.2,2.3,2.4,2.5,2.6,2.7,2.8], "labels": false, "tickSize": -8, "title": null}},
     "y": {"field": "v", "type": "quantitative", "axis": {"orient": "left", "values": [1e11, 1e12, 1e13, 1e14, 1e15, 1e16, 1e17], "labelExpr": "format(log(datum.value)/LN10,'d')", "ticks": false, "labelFontSize": 10, "labelPadding": 10, "labelOffset": -7, "title": null}},
     "detail": {"field": "s"}
    }},
   {"data": {"name": "bn"}, "mark": {"type": "point", "clip": true, "filled": true, "size": 9, "color": "#111", "opacity": 1},
    "encoding": {
     "x": {"field": "E", "type": "quantitative", "axis": {"orient": "bottom", "values": [1.8,1.9,2.0,2.1,2.2,2.3,2.4,2.5,2.6,2.7,2.8], "labels": false, "tickSize": -8, "title": null}},
     "y": {"field": "v", "type": "quantitative", "axis": {"orient": "right", "values": [1e12, 1e13, 1e14, 1e15, 1e16, 1e17], "labels": false, "tickSize": -9, "title": null}}
    }},
   {"data": {"name": "ba"}, "mark": {"type": "text", "fontSize": 19, "font": "Liberation Sans", "color": "#111", "align": "center", "baseline": "middle"},
    "encoding": {
     "x": {"field": "E", "type": "quantitative", "axis": null},
     "y": {"field": "v", "type": "quantitative", "axis": {"orient": "left", "values": [1e12, 1e13, 1e14, 1e15, 1e16, 1e17], "labels": false, "tickSize": -9, "title": null}},
     "text": {"field": "t"}
    }},
   {"data": {"name": "br"}, "mark": {"type": "rule", "strokeWidth": 1.2, "color": "#111"},
    "encoding": {
     "x": {"field": "E", "type": "quantitative", "axis": null},
     "y": {"field": "v", "type": "quantitative", "axis": {"orient": "left", "values": [2e11,3e11,4e11,5e11,6e11,7e11,8e11,9e11,2e12,3e12,4e12,5e12,6e12,7e12,8e12,9e12,2e13,3e13,4e13,5e13,6e13,7e13,8e13,9e13,2e14,3e14,4e14,5e14,6e14,7e14,8e14,9e14,2e15,3e15,4e15,5e15,6e15,7e15,8e15,9e15,2e16,3e16,4e16,5e16,6e16,7e16,8e16,9e16,2e17,3e17,4e17,5e17,6e17,7e17,8e17], "labels": false, "tickSize": -5, "title": null}},
     "x2": {"field": "E2"}, "y2": {"field": "v2"}
    }},
   {"data": {"name": "br"}, "mark": {"type": "point", "shape": "triangle-up", "filled": true, "size": 32, "color": "#111", "opacity": 1},
    "encoding": {
     "x": {"field": "E2", "type": "quantitative", "axis": null},
     "y": {"field": "v2", "type": "quantitative", "axis": {"orient": "right", "values": [2e11,3e11,4e11,5e11,6e11,7e11,8e11,9e11,2e12,3e12,4e12,5e12,6e12,7e12,8e12,9e12,2e13,3e13,4e13,5e13,6e13,7e13,8e13,9e13,2e14,3e14,4e14,5e14,6e14,7e14,8e14,9e14,2e15,3e15,4e15,5e15,6e15,7e15,8e15,9e15,2e16,3e16,4e16,5e16,6e16,7e16,8e16,9e16,2e17,3e17,4e17,5e17,6e17,7e17,8e17], "labels": false, "tickSize": -5, "title": null}},
     "angle": {"field": "ang", "type": "quantitative", "scale": null}
    }}
  ]
 }
]
}
